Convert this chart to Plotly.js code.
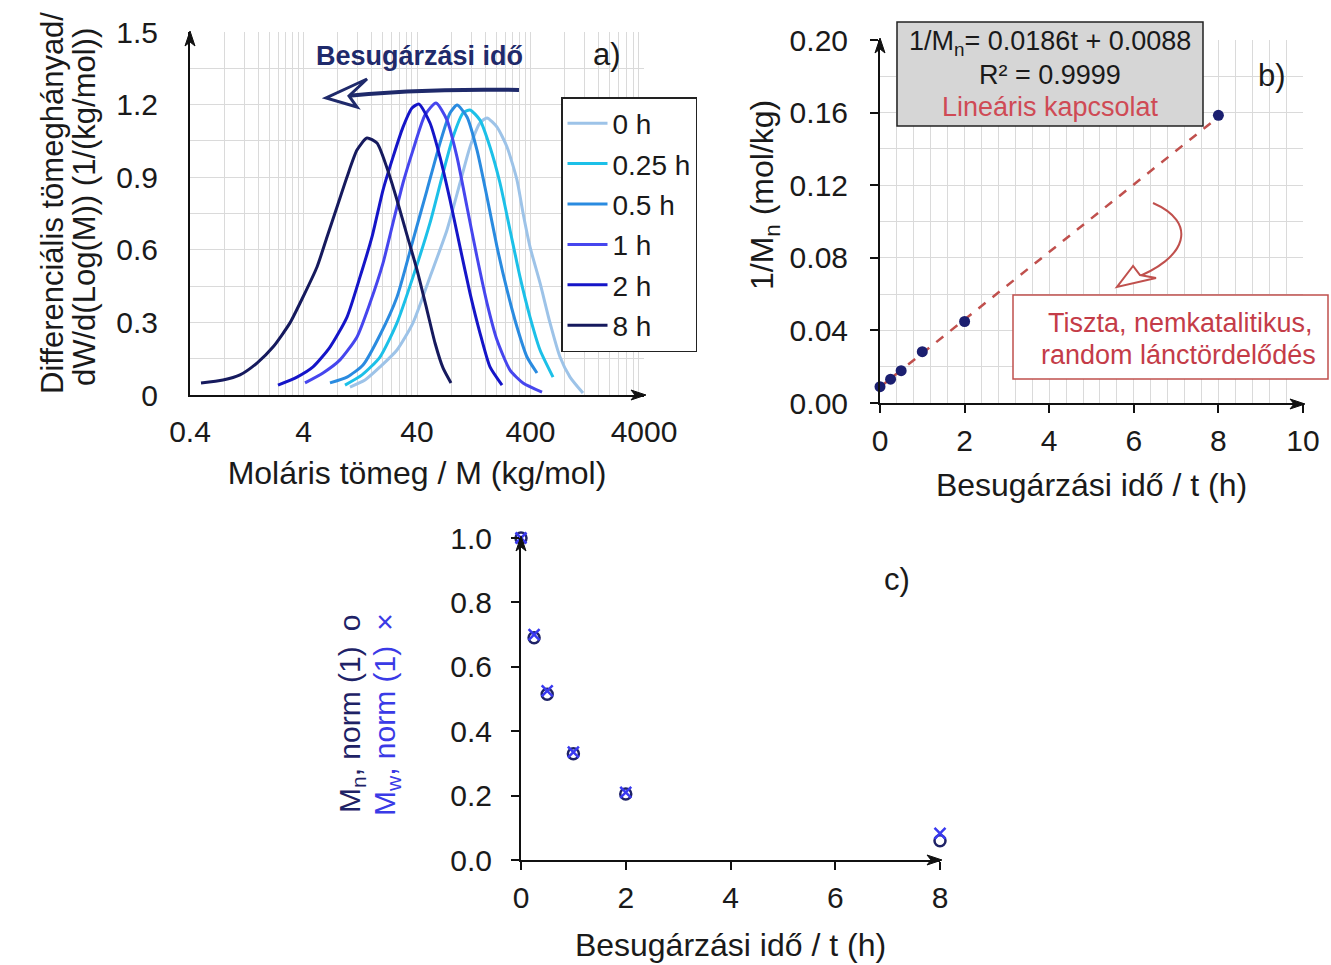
<!DOCTYPE html>
<html>
<head>
<meta charset="utf-8">
<script src="https://cdn.plot.ly/plotly-3.0.1.min.js"></script>
<style>html,body{margin:0;padding:0;background:#fff}#chart{width:1331px;height:965px}</style>
</head>
<body>
<div id="chart"></div>
<script>
// ---------- Panel a: molar mass distributions ----------
const seriesNames = ['0 h', '0.25 h', '0.5 h', '1 h', '2 h', '8 h'];
const seriesColors = ['#9dc3e8', '#1cc0e8', '#2a8be0', '#4646ee', '#1515c8', '#161a5e'];

const M_0h  = [10.27, 13.93, 18.88, 26.66, 36.89, 52.07, 73.5, 95.7, 117.2, 143.6, 165.5, 202.8, 248.4, 304.2, 343.7, 396.1, 485.2, 594.3, 728.1, 891.9, 1160];
const W_0h  = [0.033, 0.062, 0.116, 0.186, 0.298, 0.488, 0.682, 0.876, 1.025, 1.124, 1.145, 1.107, 1.025, 0.888, 0.752, 0.612, 0.463, 0.298, 0.157, 0.074, 0.008];

const M_025h = [9.284, 13.11, 18.88, 26.66, 36.89, 52.07, 67.8, 83.07, 101.7, 117.2, 143.6, 175.9, 215.5, 263.9, 323.3, 396.1, 485.2, 631.6];
const W_025h = [0.041, 0.083, 0.157, 0.298, 0.488, 0.711, 0.917, 1.066, 1.165, 1.178, 1.136, 1.025, 0.876, 0.682, 0.488, 0.322, 0.186, 0.074];

const M_05h = [6.846, 9.667, 13.38, 18.88, 26.66, 36.89, 49.00, 63.79, 78.15, 90.1, 110.3, 135.1, 165.5, 202.8, 248.4, 304.2, 372.7, 456.3];
const W_05h = [0.050, 0.074, 0.124, 0.248, 0.405, 0.640, 0.847, 1.041, 1.165, 1.198, 1.149, 1.012, 0.818, 0.612, 0.434, 0.281, 0.157, 0.091];

const M_1h = [4.124, 5.940, 8.390, 11.84, 15.42, 20.07, 24.58, 30.11, 36.89, 47.06, 58.83, 73.5, 90.1, 110.3, 135.1, 165.5, 202.8, 263.9, 343.7, 505.2];
const W_1h = [0.050, 0.091, 0.145, 0.240, 0.380, 0.545, 0.711, 0.876, 1.012, 1.157, 1.207, 1.136, 0.983, 0.777, 0.570, 0.380, 0.227, 0.103, 0.050, 0.012];

const M_2h = [2.384, 3.506, 4.852, 6.846, 9.667, 12.59, 16.05, 20.07, 24.58, 30.11, 36.14, 41.66, 52.07, 63.79, 78.15, 95.7, 117.2, 143.6, 175.9, 224.4];
const W_2h = [0.041, 0.074, 0.116, 0.198, 0.322, 0.488, 0.653, 0.847, 0.983, 1.107, 1.186, 1.202, 1.124, 0.983, 0.806, 0.612, 0.421, 0.256, 0.116, 0.041];

const M_8h = [0.500, 0.781, 1.103, 1.557, 2.154, 3.041, 3.960, 5.260, 6.444, 7.892, 9.667, 11.84, 14.50, 17.77, 21.77, 26.66, 32.66, 40.01, 49.00, 57.65, 67.8, 79.7];
const W_8h = [0.050, 0.062, 0.083, 0.132, 0.198, 0.298, 0.405, 0.529, 0.653, 0.777, 0.901, 1.012, 1.062, 1.041, 0.938, 0.806, 0.661, 0.517, 0.351, 0.215, 0.112, 0.050];

const aTickVals = [0.4, 4, 40, 400, 4000];
const aTickText = ['0.4', '4', '40', '400', '4000'];

// ---------- Panel b: 1/Mn vs irradiation time ----------
const tHours = [0, 0.25, 0.5, 1, 2, 8];
const invMn  = [0.0090, 0.0131, 0.0178, 0.0283, 0.0449, 0.1585];
const fitT      = [0, 8];
const fitInvMn  = [0.0088, 0.1576];

// ---------- Panel c: normalised Mn and Mw ----------
const MnNorm = [1.0, 0.69, 0.515, 0.33, 0.205, 0.06];
const MwNorm = [1.0, 0.70, 0.525, 0.335, 0.21, 0.083];

// ---------- layout helpers ----------
const W = 1331, H = 965;
const fx = x => x / W, fy = y => 1 - y / H;
const P = (x, y) => fx(x).toFixed(5) + ',' + fy(y).toFixed(5);
const FONT = 'Liberation Sans, Arial, Helvetica, sans-serif';
const GRID = '#dadada';
const AXC = '#111111';
const RED = '#c0504d';
const NAVY = '#1f2a6b';

// minor log gridlines at 0.4*k*10^n (axis starts at 0.4)
const aMinor = [];
for (let e = 0; e <= 3; e++) for (let k = 1; k <= 9; k++) aMinor.push(+(0.4 * k * Math.pow(10, e)).toPrecision(6));

const aM = [M_0h, M_025h, M_05h, M_1h, M_2h, M_8h];
const aW = [W_0h, W_025h, W_05h, W_1h, W_2h, W_8h];

const traces = [];
seriesNames.forEach((name, i) => {
  traces.push({
    type: 'scatter', mode: 'lines', name: name, x: aM[i], y: aW[i],
    xaxis: 'x', yaxis: 'y', legendgroup: name,
    line: {color: seriesColors[i], width: 3, shape: 'spline', smoothing: 0.6},
    hoverinfo: 'x+y+name'
  });
});
traces.push({
  type: 'scatter', mode: 'lines', x: fitT, y: fitInvMn, xaxis: 'x2', yaxis: 'y2',
  line: {color: RED, width: 2.5, dash: 'dash'}, showlegend: false, cliponaxis: false
});
traces.push({
  type: 'scatter', mode: 'markers', x: tHours, y: invMn, xaxis: 'x2', yaxis: 'y2',
  marker: {color: '#1b1f70', size: 11}, showlegend: false, cliponaxis: false
});
traces.push({
  type: 'scatter', mode: 'markers', x: tHours, y: MnNorm, xaxis: 'x3', yaxis: 'y3',
  marker: {symbol: 'circle-open', color: '#1e2266', size: 11, line: {width: 2.5, color: '#1e2266'}},
  showlegend: false, cliponaxis: false
});
traces.push({
  type: 'scatter', mode: 'markers', x: tHours, y: MwNorm, xaxis: 'x3', yaxis: 'y3',
  marker: {symbol: 'x-thin-open', color: '#3a3af0', size: 11, line: {width: 2.5, color: '#3a3af0'}},
  showlegend: false, cliponaxis: false
});

const baseAxis = {
  showline: true, linecolor: AXC, linewidth: 2, zeroline: false,
  tickfont: {size: 30, color: '#1a1a1a', family: FONT}, tickcolor: AXC, tickwidth: 2
};

function ann(text, x, y, opts) {
  return Object.assign({text: text, x: fx(x), y: fy(y), xref: 'paper', yref: 'paper', showarrow: false,
    xanchor: 'center', yanchor: 'middle', font: {size: 30, color: '#1a1a1a', family: FONT}}, opts || {});
}
function upHead(x, y) {
  return {type: 'path', xref: 'paper', yref: 'paper', layer: 'above',
    path: 'M' + P(x, y) + ' L' + P(x - 5, y + 15) + ' L' + P(x, y + 11) + ' L' + P(x + 5, y + 15) + ' Z',
    line: {color: AXC, width: 1}, fillcolor: AXC};
}
function rightHead(x, y) {
  return {type: 'path', xref: 'paper', yref: 'paper', layer: 'above',
    path: 'M' + P(x, y) + ' L' + P(x - 15, y - 5) + ' L' + P(x - 11, y) + ' L' + P(x - 15, y + 5) + ' Z',
    line: {color: AXC, width: 1}, fillcolor: AXC};
}

const layout = {
  width: W, height: H, margin: {l: 0, r: 0, t: 0, b: 0},
  paper_bgcolor: '#ffffff', plot_bgcolor: 'rgba(0,0,0,0)',
  font: {family: FONT, size: 30, color: '#1a1a1a'},
  showlegend: true,
  legend: {x: fx(561), y: fy(97), xanchor: 'left', yanchor: 'top', bgcolor: '#ffffff',
    bordercolor: '#222222', borderwidth: 1.5, font: {size: 28, color: '#1a1a1a'},
    traceorder: 'grouped', tracegroupgap: 1, itemwidth: 40},
  xaxis: Object.assign({}, baseAxis, {
    domain: [fx(190), fx(644)], anchor: 'y', type: 'log',
    range: [Math.log10(0.4), Math.log10(4000)],
    tickmode: 'array', tickvals: aTickVals, ticktext: aTickText, ticks: '',
    showgrid: true, gridcolor: GRID, gridwidth: 1, ticklabelstandoff: 9,
    minor: {tickmode: 'array', tickvals: aMinor, showgrid: true, gridcolor: GRID, gridwidth: 1, ticks: ''},
    title: {text: 'Moláris tömeg / M (kg/mol)', font: {size: 32}, standoff: 15}
  }),
  yaxis: Object.assign({}, baseAxis, {
    domain: [fy(395), fy(32)], anchor: 'x', range: [0, 1.5], tick0: 0, dtick: 0.3, ticks: '',
    showgrid: true, gridcolor: GRID, gridwidth: 1, ticklabelstandoff: 24,
    minor: {dtick: 0.15, showgrid: true, gridcolor: GRID, gridwidth: 1, ticks: ''}
  }),
  xaxis2: Object.assign({}, baseAxis, {
    domain: [fx(880), fx(1303)], anchor: 'y2', range: [0, 10], tick0: 0, dtick: 2,
    ticks: 'outside', ticklen: 8, showgrid: true, gridcolor: GRID, gridwidth: 1, ticklabelstandoff: 2,
    minor: {dtick: 0.4, showgrid: true, gridcolor: GRID, gridwidth: 1, ticks: ''},
    title: {text: 'Besugárzási idő / t (h)', font: {size: 32}, standoff: 18}
  }),
  yaxis2: Object.assign({}, baseAxis, {
    domain: [fy(403), fy(40)], anchor: 'x2', range: [0, 0.2], tick0: 0, dtick: 0.04, tickformat: '.2f',
    ticks: 'outside', ticklen: 8, showgrid: true, gridcolor: GRID, gridwidth: 1, ticklabelstandoff: 16,
    minor: {dtick: 0.02, showgrid: true, gridcolor: GRID, gridwidth: 1, ticks: ''}
  }),
  xaxis3: Object.assign({}, baseAxis, {
    domain: [fx(521), fx(940)], anchor: 'y3', range: [0, 8], tick0: 0, dtick: 2,
    ticks: 'outside', ticklen: 8, showgrid: false, ticklabelstandoff: 2,
    title: {text: 'Besugárzási idő / t (h)', font: {size: 32}, standoff: 21}
  }),
  yaxis3: Object.assign({}, baseAxis, {
    domain: [fy(860), fy(538)], anchor: 'x3', range: [0, 1], tick0: 0, dtick: 0.2, tickformat: '.1f',
    ticks: 'outside', ticklen: 8, showgrid: false, ticklabelstandoff: 13
  }),
  shapes: [
    // panel a: "irradiation time" arrow
    {type: 'path', xref: 'paper', yref: 'paper', path: 'M' + P(519, 90) + ' Q' + P(420, 88) + ' ' + P(335, 97),
      line: {color: NAVY, width: 4}},
    {type: 'path', xref: 'paper', yref: 'paper',
      path: 'M' + P(367, 79) + ' L' + P(326, 98) + ' L' + P(357, 107) + ' L' + P(349, 96) + ' Z',
      line: {color: NAVY, width: 3}, fillcolor: '#ffffff'},
    // panel b: equation box
    {type: 'rect', xref: 'paper', yref: 'paper', x0: fx(897), x1: fx(1203), y0: fy(126), y1: fy(22),
      line: {color: '#222222', width: 1.5}, fillcolor: '#d6d6d6'},
    // panel b: red note box
    {type: 'rect', xref: 'paper', yref: 'paper', x0: fx(1013), x1: fx(1328), y0: fy(379), y1: fy(295),
      line: {color: RED, width: 1.5}, fillcolor: '#ffffff'},
    // panel b: curved red arrow
    {type: 'path', xref: 'paper', yref: 'paper',
      path: 'M' + P(1153, 203) + ' C' + P(1197, 222) + ' ' + P(1190, 258) + ' ' + P(1130, 280),
      line: {color: RED, width: 2}},
    {type: 'path', xref: 'paper', yref: 'paper',
      path: 'M' + P(1133, 266) + ' L' + P(1117, 287) + ' L' + P(1156, 278) + ' L' + P(1140, 275) + ' Z',
      line: {color: RED, width: 2}, fillcolor: '#ffffff'},
    // axis arrowheads
    upHead(190, 31), rightHead(646, 395),
    upHead(880, 38), rightHead(1305, 404),
    upHead(521, 536), rightHead(942, 860)
  ],
  annotations: [
    // panel labels
    ann('a)', 607, 54, {font: {size: 31, color: '#1a1a1a', family: FONT}}),
    ann('b)', 1272, 76, {font: {size: 31, color: '#1a1a1a', family: FONT}}),
    ann('c)', 897, 579, {font: {size: 31, color: '#1a1a1a', family: FONT}}),
    ann('<b>Besugárzási idő</b>', 419, 56, {font: {size: 27, color: NAVY, family: FONT}}),
    // panel a y title (two lines)
    ann('Differenciális tömeghányad/', 52, 203, {textangle: -90, font: {size: 31, color: '#1a1a1a', family: FONT}}),
    ann('dW/d(Log(M)) (1/(kg/mol))', 85, 207, {textangle: -90, font: {size: 31, color: '#1a1a1a', family: FONT}}),
    // panel b y title
    ann('1/M<sub>n</sub> (mol/kg)', 764, 195, {textangle: -90, font: {size: 32, color: '#1a1a1a', family: FONT}}),
    // panel b equation box text
    ann('1/M<sub>n</sub>= 0.0186t + 0.0088', 1050, 43, {font: {size: 27, color: '#1a1a1a', family: FONT}}),
    ann('R² = 0.9999', 1050, 75, {font: {size: 27, color: '#1a1a1a', family: FONT}}),
    ann('Lineáris kapcsolat', 1050, 107, {font: {size: 27, color: '#cf4a55', family: FONT}}),
    // panel b red note
    ann('Tiszta, nemkatalitikus,', 1180, 323, {font: {size: 27, color: '#c43c48', family: FONT}}),
    ann('random lánctördelődés', 1178, 355, {font: {size: 27, color: '#c43c48', family: FONT}}),
    // panel c y title (two coloured lines)
    ann('M<sub>n</sub>, norm (1)\u2002o', 351, 714, {textangle: -90, font: {size: 30, color: '#1e2266', family: FONT}}),
    ann('M<sub>w</sub>, norm (1)\u2002×', 386, 714, {textangle: -90, font: {size: 30, color: '#3a3ae6', family: FONT}})
  ]
};

Plotly.newPlot('chart', traces, layout, {displayModeBar: false, staticPlot: true});
</script>
</body>
</html>
